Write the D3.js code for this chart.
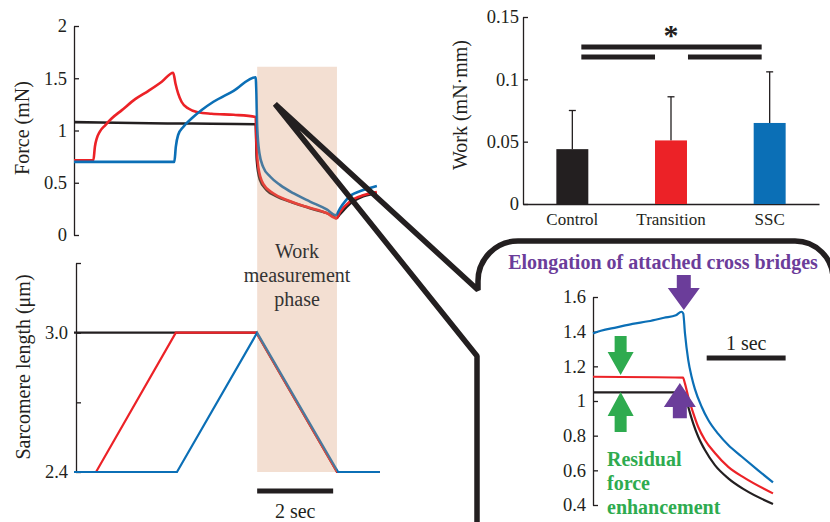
<!DOCTYPE html>
<html>
<head>
<meta charset="utf-8">
<script src="https://cdn.jsdelivr.net/npm/d3@7"></script>
<style>
  body { margin: 0; background: #fff; }
  svg { display: block; }
</style>
</head>
<body>
<svg id="fig" width="830" height="522"></svg>
<script>
// ---- data ----
// force traces, [time (s), force (mN)]
const forceControl = [[0,1.08],[2,1.07],[4.78,1.06],[4.81,0.72],[4.89,0.53],[5.07,0.43],[5.33,0.37],[5.68,0.32],[6.21,0.255],[6.82,0.18],[6.9,0.16],[7.0,0.2],[7.26,0.3],[7.61,0.37],[7.97,0.40]];
const forceTransition = [[0,0.715],[0.51,0.715],[0.55,0.845],[0.6,0.925],[0.68,0.99],[0.82,1.05],[0.99,1.115],[1.26,1.195],[1.61,1.30],[1.96,1.38],[2.31,1.467],[2.61,1.553],[2.67,1.45],[2.74,1.355],[2.83,1.275],[3.01,1.21],[3.27,1.175],[3.62,1.16],[4.2,1.15],[4.78,1.13],[4.8,0.88],[4.85,0.65],[4.98,0.49],[5.24,0.40],[5.6,0.335],[6.12,0.27],[6.65,0.21],[6.91,0.16],[7.0,0.22],[7.26,0.32],[7.61,0.38],[7.97,0.41]];
const forceSSC = [[0,0.70],[2.64,0.70],[2.68,0.845],[2.74,0.957],[2.88,1.036],[3.10,1.117],[3.36,1.196],[3.67,1.275],[4.2,1.38],[4.78,1.51],[4.80,1.36],[4.82,1.04],[4.88,0.78],[4.98,0.65],[5.16,0.56],[5.42,0.48],[5.77,0.40],[6.21,0.32],[6.65,0.245],[6.89,0.19],[7.0,0.255],[7.26,0.37],[7.61,0.43],[7.97,0.47]];

// sarcomere length traces, [time (s), length (um)]
const lengthControl = [[0,3.0],[4.8,3.0],[6.92,2.4],[8.05,2.4]];
const lengthTransition = [[0,2.4],[0.58,2.4],[2.68,3.0],[4.8,3.0],[6.92,2.4],[8.05,2.4]];
const lengthSSC = [[0,2.4],[2.71,2.4],[4.82,3.0],[6.95,2.4],[8.05,2.4]];

// zoomed inset, [time (s), force (mN)]
const insetControl = [[0,1.05],[1.16,1.05],[1.206,0.967],[1.27,0.87],[1.333,0.794],[1.418,0.717],[1.544,0.63],[1.713,0.554],[1.924,0.487],[2.28,0.406]];
const insetTransition = [[0,1.14],[1.14,1.135],[1.165,1.10],[1.206,1.025],[1.27,0.93],[1.333,0.85],[1.418,0.775],[1.544,0.70],[1.713,0.62],[1.924,0.555],[2.28,0.467]];
const insetSSC = [[0,1.39],[0.1,1.405],[0.3,1.425],[0.5,1.445],[0.7,1.46],[0.9,1.48],[1.05,1.495],[1.12,1.515],[1.143,1.505],[1.165,1.39],[1.206,1.237],[1.249,1.14],[1.29,1.07],[1.376,0.967],[1.46,0.89],[1.586,0.81],[1.713,0.746],[1.882,0.68],[2.092,0.60],[2.28,0.53]];

// work bar chart
const groups = ["Control", "Transition", "SSC"];
const workMean = [0.044, 0.051, 0.065];
const workSD = [0.031, 0.035, 0.041];

// tick values and labels
const forceTicks = [0, 0.5, 1, 1.5, 2];
const forceTickLabels = ["0", "0.5", "1", "1.5", "2"];
const lengthTicks = [2.4, 2.7, 3.0, 3.3];
const lengthTickLabels = ["2.4", "", "3.0", ""];
const workTicks = [0, 0.05, 0.1, 0.15];
const workTickLabels = ["0", "0.05", "0.1", "0.15"];
const insetTicks = [0.4, 0.6, 0.8, 1.0, 1.2, 1.4, 1.6];
const insetTickLabels = ["0.4", "0.6", "0.8", "1", "1.2", "1.4", "1.6"];

const seriesColors = ["#231f20", "#ec2227", "#0b6fb6"];
const ink = "#231f20";
const serif = "'Liberation Serif', 'Times New Roman', serif";
const purple = "#6b3d9a";
const green = "#2eab4f";

const svg = d3.select("#fig");
svg.append("rect").attr("width", 830).attr("height", 522).attr("fill", "#fff");

function styleAxis(g, size) {
  g.attr("font-family", serif).attr("font-size", size);
  g.select(".domain").attr("stroke", ink).attr("stroke-width", 1.3);
  g.selectAll(".tick line").attr("stroke", ink).attr("stroke-width", 1.3);
  g.selectAll(".tick text").attr("fill", ink);
}

function yLabel(text, x, y) {
  svg.append("text")
    .attr("transform", `translate(${x},${y}) rotate(-90)`)
    .attr("text-anchor", "middle")
    .attr("font-family", serif).attr("font-size", 20).attr("fill", ink)
    .text(text);
}

// ---- left panels: force and sarcomere length ----
const x = d3.scaleLinear().domain([0, 8]).range([74, 378]);
const yForce = d3.scaleLinear().domain([0, 2]).range([235, 26]);
const yLen = d3.scaleLinear().domain([2.4, 3.3]).range([472, 263]);

svg.append("g").attr("transform", "translate(74,0)")
  .call(d3.axisLeft(yForce).tickValues(forceTicks).tickFormat((d, i) => forceTickLabels[i])
    .tickSize(-5).tickSizeOuter(0).tickPadding(7))
  .call(g => styleAxis(g, 18.5));

svg.append("g").attr("transform", "translate(76,0)")
  .call(d3.axisLeft(yLen).tickValues(lengthTicks).tickFormat((d, i) => lengthTickLabels[i])
    .tickSize(-5).tickSizeOuter(0).tickPadding(8))
  .call(g => styleAxis(g, 18.5));

yLabel("Force (mN)", 29, 128);
yLabel("Sarcomere length (\u03bcm)", 30, 367);

const forceLine = d3.line().x(d => x(d[0])).y(d => yForce(d[1])).curve(d3.curveMonotoneX);
const lenLine = d3.line().x(d => x(d[0])).y(d => yLen(d[1]));

[forceControl, forceTransition, forceSSC].forEach((s, i) => {
  svg.append("path").datum(s).attr("d", forceLine)
    .attr("fill", "none").attr("stroke", seriesColors[i]).attr("stroke-width", 2.6);
});
[lengthControl, lengthTransition, lengthSSC].forEach((s, i) => {
  svg.append("path").datum(s).attr("d", lenLine)
    .attr("fill", "none").attr("stroke", seriesColors[i]).attr("stroke-width", 2.2);
});

// work measurement phase shading (translucent, lies over the traces)
const phaseStart = 4.82, phaseEnd = 6.92;
svg.append("rect")
  .attr("x", x(phaseStart)).attr("width", x(phaseEnd) - x(phaseStart))
  .attr("y", yForce(1.61)).attr("height", yLen(2.4) - yForce(1.61))
  .attr("fill", "#d79469").attr("fill-opacity", 0.3);

const phaseLabel = svg.append("text")
  .attr("text-anchor", "middle").attr("font-family", serif).attr("font-size", 20).attr("fill", "#333");
["Work", "measurement", "phase"].forEach((t, i) => {
  phaseLabel.append("tspan").attr("x", x((phaseStart + phaseEnd) / 2)).attr("y", 258 + i * 24).text(t);
});

// 2 sec scale bar
svg.append("line")
  .attr("x1", x(phaseStart)).attr("x2", x(phaseStart + 2)).attr("y1", 491).attr("y2", 491)
  .attr("stroke", ink).attr("stroke-width", 5);
svg.append("text")
  .attr("x", x(phaseStart + 1)).attr("y", 518).attr("text-anchor", "middle")
  .attr("font-family", serif).attr("font-size", 20).attr("fill", ink).text("2 sec");

// ---- work bar chart ----
const xBar = d3.scaleBand().domain(groups).range([523, 819]).paddingInner(0.676).paddingOuter(0.338);
const yWork = d3.scaleLinear().domain([0, 0.15]).range([204, 17]);

svg.append("g").attr("transform", "translate(523,0)")
  .call(d3.axisLeft(yWork).tickValues(workTicks).tickFormat((d, i) => workTickLabels[i])
    .tickSize(-5).tickSizeOuter(0).tickPadding(4))
  .call(g => styleAxis(g, 18.5));

svg.append("g").attr("transform", "translate(0,204)")
  .call(d3.axisBottom(xBar).tickSize(0).tickPadding(9))
  .call(g => styleAxis(g, 17));

yLabel("Work (mN\u00b7mm)", 467, 105);

const bw = xBar.bandwidth();
groups.forEach((gname, i) => {
  const cx = xBar(gname) + bw / 2;
  svg.append("line").attr("x1", cx).attr("x2", cx)
    .attr("y1", yWork(workMean[i])).attr("y2", yWork(workMean[i] + workSD[i]))
    .attr("stroke", ink).attr("stroke-width", 1.3);
  svg.append("line").attr("x1", cx - 3.5).attr("x2", cx + 3.5)
    .attr("y1", yWork(workMean[i] + workSD[i])).attr("y2", yWork(workMean[i] + workSD[i]))
    .attr("stroke", ink).attr("stroke-width", 1.3);
  svg.append("rect").attr("x", xBar(gname)).attr("width", bw)
    .attr("y", yWork(workMean[i])).attr("height", yWork(0) - yWork(workMean[i]))
    .attr("fill", seriesColors[i]);
});

// significance bars
const cCtrl = xBar("Control") + bw / 2 + 9;
const cSSC = xBar("SSC") + bw / 2 - 8;
const sigBars = [
  [cCtrl, cSSC, 0.126],
  [cCtrl, xBar("Transition"), 0.118],
  [xBar("Transition") + bw + 1, cSSC, 0.118]
];
sigBars.forEach(b => {
  svg.append("line").attr("x1", b[0]).attr("x2", b[1])
    .attr("y1", yWork(b[2])).attr("y2", yWork(b[2]))
    .attr("stroke", ink).attr("stroke-width", 5);
});
svg.append("text")
  .attr("x", xBar("Transition") + bw / 2).attr("y", 45).attr("text-anchor", "middle")
  .attr("font-family", serif).attr("font-size", 30).attr("font-weight", "bold").attr("fill", ink)
  .text("*");

// ---- zoomed inset ----
const xIn = d3.scaleLinear().domain([0, 2.28]).range([593, 773]);
const yIn = d3.scaleLinear().domain([0.4, 1.6]).range([505, 297]);

svg.append("g").attr("transform", "translate(593,0)")
  .call(d3.axisLeft(yIn).tickValues(insetTicks).tickFormat((d, i) => insetTickLabels[i])
    .tickSize(-5).tickSizeOuter(0).tickPadding(7))
  .call(g => styleAxis(g, 18.5));

const inLine = d3.line().x(d => xIn(d[0])).y(d => yIn(d[1])).curve(d3.curveMonotoneX);
[insetControl, insetTransition, insetSSC].forEach((s, i) => {
  svg.append("path").datum(s).attr("d", inLine)
    .attr("fill", "none").attr("stroke", seriesColors[i]).attr("stroke-width", 2.2);
});

// 1 sec scale bar
svg.append("line")
  .attr("x1", xIn(1.44)).attr("x2", xIn(2.44)).attr("y1", 358).attr("y2", 358)
  .attr("stroke", ink).attr("stroke-width", 5);
svg.append("text")
  .attr("x", xIn(1.94)).attr("y", 350).attr("text-anchor", "middle")
  .attr("font-family", serif).attr("font-size", 20).attr("fill", ink).text("1 sec");

// block arrows
function arrow(cx, tipY, baseY, headLen, headW, shaftW, color) {
  const s = Math.sign(baseY - tipY);
  const hy = tipY + s * headLen;
  const pts = [
    [cx, tipY], [cx + headW / 2, hy], [cx + shaftW / 2, hy], [cx + shaftW / 2, baseY],
    [cx - shaftW / 2, baseY], [cx - shaftW / 2, hy], [cx - headW / 2, hy]
  ];
  svg.append("polygon").attr("points", pts.map(p => p.join(",")).join(" ")).attr("fill", color);
}
arrow(xIn(1.15), yIn(1.525), yIn(1.727), 22, 32, 14, purple);
arrow(xIn(1.10), yIn(1.104), yIn(0.90), 24, 32, 14, purple);
arrow(xIn(0.35), yIn(1.15), yIn(1.375), 23, 26, 12, green);
arrow(xIn(0.35), yIn(1.052), yIn(0.821), 24, 26, 12, green);

svg.append("text")
  .attr("x", 663).attr("y", 269).attr("text-anchor", "middle")
  .attr("font-family", serif).attr("font-size", 20).attr("font-weight", "bold").attr("fill", purple)
  .text("Elongation of attached cross bridges");

const rfe = svg.append("text")
  .attr("font-family", serif).attr("font-size", 20).attr("font-weight", "bold").attr("fill", green);
["Residual", "force", "enhancement"].forEach((t, i) => {
  rfe.append("tspan").attr("x", 607).attr("y", 466 + i * 24).text(t);
});

// callout outline linking the force trace to the inset
svg.append("path")
  .attr("d", "M477,540 L477,356 L275,104 L478,290 L478,281 A40,40 0 0 1 518,241 L795,241 A38,38 0 0 1 833,279 L833,540")
  .attr("fill", "none").attr("stroke", ink).attr("stroke-width", 5.5)
  .attr("stroke-linejoin", "bevel");
</script>
</body>
</html>
